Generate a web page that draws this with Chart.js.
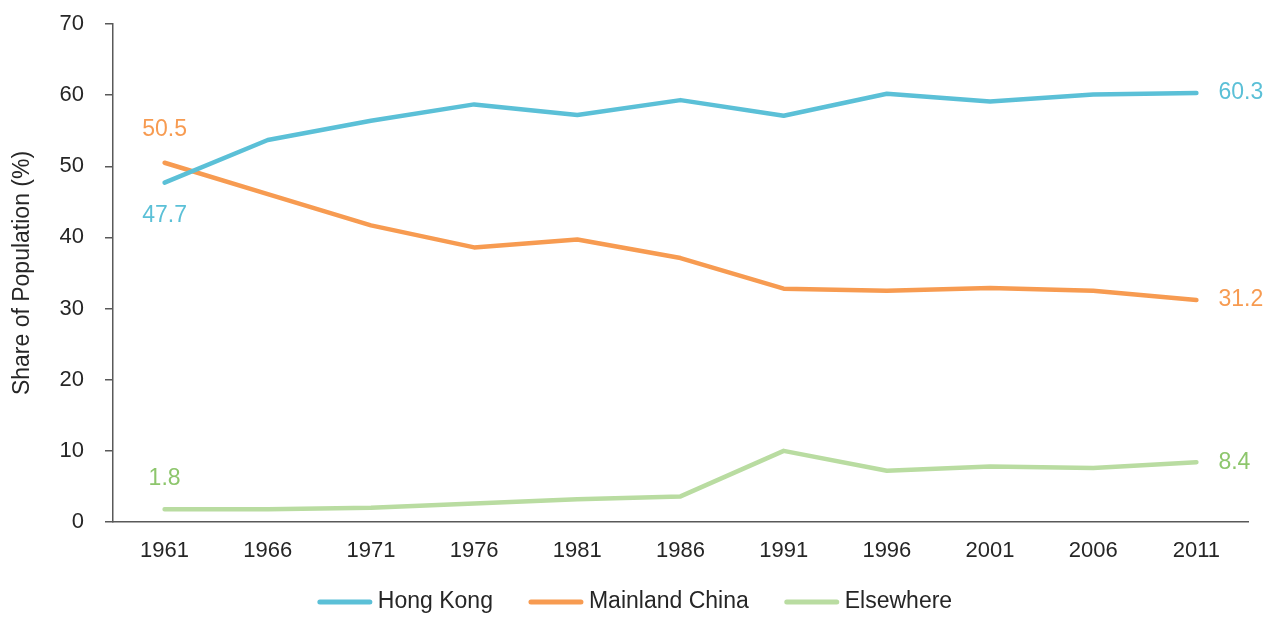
<!DOCTYPE html>
<html>
<head>
<meta charset="utf-8">
<script src="https://cdn.jsdelivr.net/npm/chart.js@4.4.1/dist/chart.umd.min.js"></script>
<style>
  html, body { margin: 0; padding: 0; background: #fff; }
  #box { width: 1270px; height: 618px; }
</style>
</head>
<body>
<div id="box"><canvas id="graphique"></canvas></div>
<script>
// donnees
const annees = ["1961", "1966", "1971", "1976", "1981", "1986", "1991", "1996", "2001", "2006", "2011"];
const hongKong = [47.7, 53.7, 56.4, 58.7, 57.2, 59.3, 57.1, 60.2, 59.1, 60.1, 60.3];
const mainlandChina = [50.5, 46.1, 41.7, 38.6, 39.7, 37.1, 32.8, 32.5, 32.9, 32.5, 31.2];
const elsewhere = [1.8, 1.8, 2.0, 2.6, 3.2, 3.6, 10.0, 7.2, 7.8, 7.6, 8.4];
const nomsSeries = ["Hong Kong", "Mainland China", "Elsewhere"];

const couleurs = ["#5bc0d7", "#f79b51", "#b9dca1"];
const couleursTexte = ["#5bc0d7", "#f79b51", "#8dc66c"];
const police = "'Liberation Sans', Arial, sans-serif";

// etiquettes des valeurs : debut et fin de chaque serie
const etiquettes = [
  { serie: 0, index: 0, dx: 0, dy: 33, align: "center" },
  { serie: 0, index: 10, dx: 22, dy: 0, align: "left" },
  { serie: 1, index: 0, dx: 0, dy: -33, align: "center" },
  { serie: 1, index: 10, dx: 22, dy: 0, align: "left" },
  { serie: 2, index: 0, dx: 0, dy: -31, align: "center" },
  { serie: 2, index: 10, dx: 22, dy: 0, align: "left" },
];

const pluginEtiquettes = {
  id: "etiquettes",
  afterDatasetsDraw(chart) {
    const ctx = chart.ctx;
    ctx.save();
    ctx.font = "23px " + police;
    ctx.textBaseline = "middle";
    for (const e of etiquettes) {
      const point = chart.getDatasetMeta(e.serie).data[e.index];
      const valeur = chart.data.datasets[e.serie].data[e.index];
      ctx.fillStyle = couleursTexte[e.serie];
      ctx.textAlign = e.align;
      ctx.fillText(valeur.toFixed(1), point.x + e.dx, point.y + e.dy);
    }
    ctx.restore();
  },
};

// legende dessinee a la main (trait + texte, centree en bas)
const pluginLegende = {
  id: "legende",
  afterDraw(chart) {
    const ctx = chart.ctx;
    const trait = 54, ecart = 6, espace = 36, y = 602;
    ctx.save();
    ctx.font = "23px " + police;
    ctx.textBaseline = "middle";
    ctx.textAlign = "left";
    const largeurs = nomsSeries.map((n) => ctx.measureText(n).width);
    let total = 0;
    largeurs.forEach((l) => { total += trait + ecart + l; });
    total += espace * (nomsSeries.length - 1);
    let x = (chart.width - total) / 2;
    for (let i = 0; i < nomsSeries.length; i++) {
      ctx.strokeStyle = couleurs[i];
      ctx.lineWidth = 5;
      ctx.lineCap = "round";
      ctx.beginPath();
      ctx.moveTo(x + 2, y);
      ctx.lineTo(x + trait - 2, y);
      ctx.stroke();
      ctx.fillStyle = "#262626";
      ctx.fillText(nomsSeries[i], x + trait + ecart, y);
      x += trait + ecart + largeurs[i] + espace;
    }
    ctx.restore();
  },
};

const series = [hongKong, mainlandChina, elsewhere];
const data = {
  labels: annees,
  datasets: series.map((valeurs, i) => ({
    label: nomsSeries[i],
    data: valeurs,
    borderColor: couleurs[i],
    backgroundColor: couleurs[i],
    borderWidth: 4.5,
    pointRadius: 0,
    tension: 0,
    borderJoinStyle: "round",
    borderCapStyle: "round",
  })),
};

const config = {
  type: "line",
  data: data,
  plugins: [pluginEtiquettes, pluginLegende],
  options: {
    responsive: true,
    maintainAspectRatio: false,
    animation: false,
    layout: { padding: { top: 24, right: 22, left: 0, bottom: 56 } },
    plugins: {
      tooltip: { enabled: false },
      legend: { display: false },
    },
    scales: {
      x: {
        offset: true,
        grid: { display: false, drawTicks: false },
        border: { display: true, color: "#595959", width: 1.5 },
        ticks: { color: "#262626", font: { family: police, size: 22 }, padding: 16, maxRotation: 0 },
        afterFit: (s) => { s.height = 40; },
      },
      y: {
        min: 0,
        max: 70,
        ticks: { stepSize: 10, color: "#262626", font: { family: police, size: 22 }, padding: 21 },
        grid: { drawOnChartArea: false, drawTicks: true, tickLength: 8, color: "#595959", lineWidth: 1.5 },
        border: { display: true, color: "#595959", width: 1.5 },
        title: {
          display: true,
          text: "Share of Population (%)",
          color: "#262626",
          font: { family: police, size: 23 },
          padding: { top: 9, bottom: 0 },
        },
        afterFit: (s) => {
          s.width = 113;
          s.paddingTop = 0;
          s.paddingBottom = 0;
        },
      },
    },
  },
};

new Chart(document.querySelector("#graphique"), config);
</script>
</body>
</html>
